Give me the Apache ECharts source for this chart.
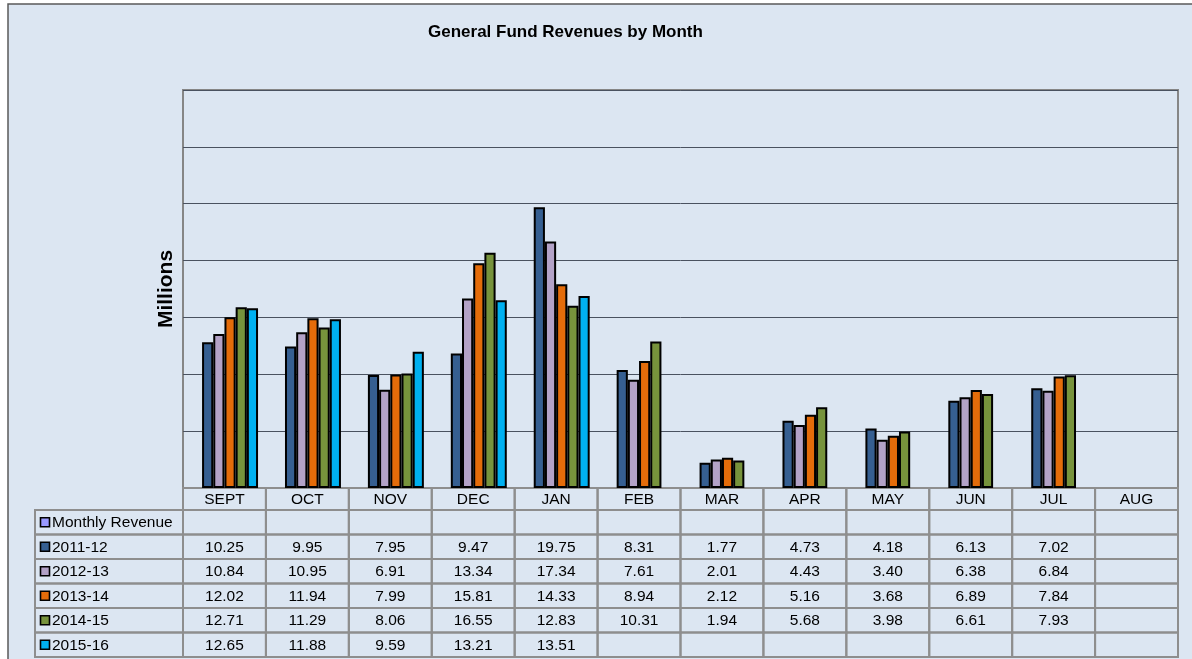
<!DOCTYPE html>
<html><head><meta charset="utf-8">
<script src="https://cdn.jsdelivr.net/npm/echarts@6/dist/echarts.min.js"></script>
<style>html,body{margin:0;padding:0;background:#fff;}#c{width:1192px;height:659px;}</style>
</head><body><div id="c"></div>
<script>
// ---- data ----
const months = ['SEPT','OCT','NOV','DEC','JAN','FEB','MAR','APR','MAY','JUN','JUL','AUG'];
const seriesNames = ['Monthly Revenue','2011-12','2012-13','2013-14','2014-15','2015-16'];
const monthlyRevenue = [null,null,null,null,null,null,null,null,null,null,null,null];
const fy2011_12 = [10.25,9.95,7.95,9.47,19.75,8.31,1.77,4.73,4.18,6.13,7.02,null];
const fy2012_13 = [10.84,10.95,6.91,13.34,17.34,7.61,2.01,4.43,3.40,6.38,6.84,null];
const fy2013_14 = [12.02,11.94,7.99,15.81,14.33,8.94,2.12,5.16,3.68,6.89,7.84,null];
const fy2014_15 = [12.71,11.29,8.06,16.55,12.83,10.31,1.94,5.68,3.98,6.61,7.93,null];
const fy2015_16 = [12.65,11.88,9.59,13.21,13.51,null,null,null,null,null,null,null];
const yMin = 0, yMax = 28, yInterval = 4;

const seriesValues = [monthlyRevenue, fy2011_12, fy2012_13, fy2013_14, fy2014_15, fy2015_16];
const colors = ['#9999FF','#365F91','#B3A2C7','#E46C0A','#77933C','#00B0F0'];

// ---- table cells ----
const cells = [];
months.forEach((m, c) => cells.push({type:'h', c, r:0, text:m}));
seriesNames.forEach((n, r) => cells.push({type:'l', c:0, r, text:n, color:colors[r]}));
seriesValues.forEach((arr, r) => arr.forEach((v, c) => cells.push({type:'v', c, r, text: v == null ? '' : v.toFixed(2)})));

const FONT = 'Liberation Sans, Arial, sans-serif';
const BORDER = '#8E8E8E';
const HEADER_H = 22, LEGEND_W = 148;
const CELL_FONT = '15.5px ' + FONT;

function renderCell(params, api) {
  const cell = cells[params.dataIndex];
  const cs = params.coordSys;
  const p = api.coord([cell.c, cell.r]);
  const sz = api.size([1, 1]);
  let x, y, w, h;
  if (cell.type === 'h') { w = sz[0]; h = HEADER_H; x = p[0] - w/2; y = cs.y - HEADER_H; }
  else if (cell.type === 'l') { w = LEGEND_W; h = sz[1]; x = cs.x - LEGEND_W; y = p[1] - h/2; }
  else { w = sz[0]; h = sz[1]; x = p[0] - w/2; y = p[1] - h/2; }
  const children = [{
    type:'rect', shape:{x, y, width:w, height:h},
    style:{fill:'none', stroke:BORDER, lineWidth:2}
  }];
  if (cell.type === 'l') {
    children.push({type:'rect', shape:{x:5.5+x, y:y+h/2-4.5, width:9, height:9},
      style:{fill:cell.color, stroke:'#000', lineWidth:1.6}});
    children.push({type:'text', style:{text:cell.text, x:x+17, y:y+h/2+0.5, align:'left', verticalAlign:'middle',
      font:CELL_FONT, fill:'#000'}});
  } else {
    children.push({type:'text', style:{text:cell.text, x:x+w/2, y:y+h/2+0.5, align:'center', verticalAlign:'middle',
      font:CELL_FONT, fill:'#000'}});
  }
  return {type:'group', children};
}

const chart = echarts.init(document.getElementById('c'), null, {renderer:'canvas'});
const barSeries = seriesNames.map((name, i) => ({
  name, type:'bar', xAxisIndex:0, yAxisIndex:0,
  data: seriesValues[i],
  barGap:'0%', barCategoryGap:'19%',
  itemStyle:{color:colors[i], borderColor:'#000', borderWidth:2},
  emphasis:{disabled:true}, animation:false
}));

chart.setOption({
  backgroundColor:'#ffffff',
  animation:false,
  graphic:[{type:'rect', z:-100, silent:true,
    shape:{x:8, y:4, width:1200, height:670},
    style:{fill:'#DCE6F2', stroke:'#595959', lineWidth:1.5}}],
  title:{text:'General Fund Revenues by Month', left:428, top:24, padding:0,
    textStyle:{fontFamily:FONT, fontSize:17, fontWeight:'bold', color:'#000'}},
  grid:[
    {left:183, top:90, width:995, height:398, show:true, borderColor:'#868686', borderWidth:2, backgroundColor:'transparent'},
    {left:183, top:510, width:995, height:147}
  ],
  xAxis:[
    {type:'category', gridIndex:0, data:months, axisLabel:{show:false}, axisTick:{show:false},
      axisLine:{show:true, lineStyle:{color:'#868686', width:2}}, splitLine:{show:false}},
    {type:'category', gridIndex:1, data:months, show:false}
  ],
  yAxis:[
    {type:'value', gridIndex:0, min:yMin, max:yMax, interval:yInterval,
      name:'Millions', nameLocation:'middle', nameRotate:90, nameGap:6,
      nameTextStyle:{fontFamily:FONT, fontSize:21, fontWeight:'bold', color:'#000'},
      axisLabel:{show:false}, axisTick:{show:false}, axisLine:{show:false},
      splitLine:{show:true, lineStyle:{color:'#4A5260', width:1}}},
    {type:'category', gridIndex:1, data:seriesNames, inverse:true, show:false}
  ],
  series: barSeries.concat([{
    type:'custom', xAxisIndex:1, yAxisIndex:1, renderItem:renderCell,
    data: cells.map(c => [c.c, c.r]), silent:true, animation:false, clip:false
  }])
});
</script></body></html>
